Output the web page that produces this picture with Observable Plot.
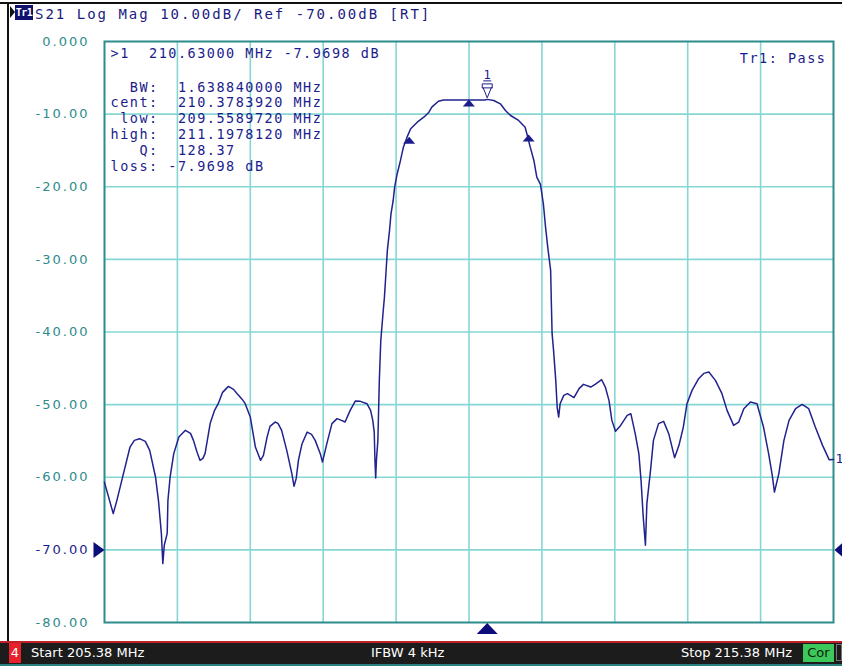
<!DOCTYPE html>
<html><head><meta charset="utf-8">
<script src="https://cdn.jsdelivr.net/npm/d3@7"></script>
<script src="https://cdn.jsdelivr.net/npm/@observablehq/plot@0.6"></script>
<style>
html,body{margin:0;padding:0;background:#fff;}
#wrap{position:relative;width:842px;height:666px;overflow:hidden;background:#fff;}
#chart{position:absolute;left:0;top:0;}
.abs{position:absolute;}
#hdr{position:absolute;left:35px;top:5px;font:14px "DejaVu Sans Mono",monospace;letter-spacing:2px;color:#1a1a80;white-space:pre;line-height:18px;}
.ft{position:absolute;top:645px;font:13px "DejaVu Sans",sans-serif;color:#fff;white-space:pre;line-height:16px;}
</style></head><body>
<div id="wrap">
  <div id="chart"></div>
  <div class="abs" style="left:0;top:2px;width:842px;height:2px;background:#111"></div>
  <div class="abs" style="left:7px;top:2px;width:2px;height:640px;background:#111"></div>
  <div class="abs" style="left:10px;top:6px;width:0;height:0;border-top:6px solid transparent;border-bottom:6px solid transparent;border-left:5px solid #111"></div>
  <div class="abs" style="left:15px;top:5px;width:18px;height:15px;background:#10106e;color:#fff;font:bold 10px 'DejaVu Sans Mono',monospace;letter-spacing:-0.5px;line-height:15px;text-align:center">Tr1</div>
  <div id="hdr"></div>
  <div class="abs" style="left:0;top:641px;width:842px;height:25px;background:#1c1c1c"></div>
  <div class="abs" style="left:0;top:641px;width:842px;height:2px;background:#c0202a"></div>
  <div class="abs" style="left:0;top:664px;width:842px;height:2px;background:#2a7f7f"></div>
  <div class="abs" style="left:9px;top:643px;width:12px;height:20px;background:#e8202c;color:#fff;font:13px 'DejaVu Sans',sans-serif;line-height:20px;text-align:center">4</div>
  <div class="ft" id="fStart" style="left:31px"></div>
  <div class="ft" id="fIfbw" style="left:371px"></div>
  <div class="ft" id="fStop" style="right:50px"></div>
  <div class="abs" style="left:803px;top:644px;width:31px;height:18px;background:#3cc85a;color:#0c1c0c;font:13px 'DejaVu Sans',sans-serif;line-height:18px;text-align:center">Cor</div>
  <div class="abs" style="left:836px;top:644px;width:6px;height:17px;border:1px solid #777;box-sizing:border-box"></div>
</div>
<script>
// ---- data ----
const startMHz = 205.38;
const stopMHz = 215.38;
const xGridMHz = [206.38, 207.38, 208.38, 209.38, 210.38, 211.38, 212.38, 213.38, 214.38];
const yTickValues = [0, -10, -20, -30, -40, -50, -60, -70, -80];
const yTickLabels = ["0.000", "-10.00", "-20.00", "-30.00", "-40.00", "-50.00", "-60.00", "-70.00", "-80.00"];
const refLevelDb = -70;

const freqMHz = [
205.38,205.43,205.50,205.55,205.64,205.73,205.79,205.86,205.94,206.00,
206.08,206.12,206.16,206.18,206.20,206.24,206.25,206.28,206.33,206.40,
206.49,206.56,206.60,206.65,206.69,206.73,206.76,206.83,206.89,206.94,
207.00,207.08,207.15,207.20,207.27,207.31,207.38,207.45,207.52,207.56,
207.61,207.65,207.72,207.76,207.81,207.88,207.95,207.98,208.01,208.04,
208.09,208.16,208.22,208.27,208.34,208.37,208.43,208.50,208.57,208.63,
208.68,208.75,208.82,208.89,208.98,209.03,209.06,209.08,209.09,209.10,
209.11,209.13,209.15,209.17,209.20,209.22,209.24,209.26,209.29,209.31,
209.34,209.36,209.39,209.44,209.48,209.53,209.58,209.67,209.76,209.83,
209.87,209.96,210.03,210.60,210.63,210.72,210.81,210.88,210.95,211.06,
211.15,211.18,211.22,211.27,211.31,211.36,211.40,211.43,211.46,211.50,
211.51,211.52,211.54,211.57,211.59,211.61,211.63,211.68,211.73,211.77,
211.82,211.89,211.95,212.05,212.11,212.20,212.25,212.30,212.34,212.39,
212.46,212.55,212.60,212.66,212.71,212.74,212.77,212.80,212.82,212.87,
212.91,212.98,213.05,213.12,213.20,213.26,213.32,213.37,213.44,213.53,
213.60,213.67,213.76,213.85,213.92,214.01,214.08,214.15,214.24,214.33,
214.42,214.49,214.54,214.57,214.63,214.70,214.77,214.86,214.95,215.04,
215.13,215.23,215.32,215.38];
const s21dB = [
-60.70,-62.49,-65.01,-63.18,-59.50,-55.84,-54.92,-54.69,-55.06,-56.30,
-59.97,-63.18,-67.72,-71.89,-69.37,-67.72,-63.18,-59.97,-56.75,-54.47,
-53.54,-53.96,-54.92,-56.57,-57.67,-57.40,-56.71,-52.58,-50.79,-49.87,
-48.31,-47.49,-47.90,-48.49,-49.28,-49.87,-51.71,-55.84,-57.67,-56.99,
-54.47,-52.99,-52.40,-52.58,-53.54,-56.30,-59.50,-61.25,-60.15,-57.67,
-55.38,-53.78,-54.09,-54.92,-56.75,-57.91,-55.38,-52.62,-51.93,-52.17,
-52.40,-50.79,-49.51,-49.55,-49.87,-50.79,-52.17,-53.78,-57.67,-60.11,
-57.67,-54.92,-46.66,-41.16,-37.48,-35.20,-31.98,-28.77,-26.01,-23.72,
-21.89,-20.05,-18.44,-16.38,-14.55,-13.17,-12.02,-11.11,-10.42,-9.73,
-9.04,-8.22,-8.05,-8.05,-7.97,-8.12,-8.58,-9.50,-10.19,-10.87,
-11.80,-12.94,-14.55,-16.38,-18.68,-19.68,-22.34,-25.56,-28.31,-31.52,
-36.10,-40.23,-42.53,-46.66,-50.42,-51.71,-49.87,-48.73,-48.49,-48.73,
-49.04,-47.80,-47.21,-47.58,-47.21,-46.57,-47.58,-49.41,-52.17,-53.68,
-52.86,-51.48,-51.25,-54.00,-56.75,-60.43,-65.48,-69.37,-63.63,-59.05,
-54.92,-52.62,-52.31,-54.00,-57.30,-55.61,-53.09,-49.87,-48.04,-46.43,
-45.70,-45.52,-46.66,-48.49,-50.79,-52.86,-52.40,-50.56,-49.65,-49.87,
-53.09,-56.75,-59.74,-62.04,-59.50,-54.92,-52.17,-50.56,-49.97,-50.56,
-53.09,-55.61,-57.58,-57.54];

const marker1MHz = 210.63;
const marker1Db = -7.97;
const bwMarkerMHz = [209.559, 210.378, 211.198];
const bwMarkerDb = [-13.1, -8.0, -12.8];

const headerText = "S21 Log Mag 10.00dB/ Ref -70.00dB [RT]";
const markerLines = [
  ">1  210.63000 MHz -7.9698 dB",
  "  BW:  1.638840000 MHz",
  "cent:  210.3783920 MHz",
  " low:  209.5589720 MHz",
  "high:  211.1978120 MHz",
  "   Q:  128.37",
  "loss: -7.9698 dB"
];
const passText = "Tr1: Pass";
const footerStart = "Start 205.38 MHz";
const footerIfbw = "IFBW 4 kHz";
const footerStop = "Stop 215.38 MHz";

// ---- drawing ----
document.getElementById("hdr").textContent = headerText;
document.getElementById("fStart").textContent = footerStart;
document.getElementById("fIfbw").textContent = footerIfbw;
document.getElementById("fStop").textContent = footerStop;

const navy = "#1c1c8c";
const teal = "#2e8b8b";
const gridColor = "#86d6d4";
const frameColor = "#2f8c8c";
const mono = "DejaVu Sans Mono, monospace";
const nb = s => s.replace(/ /g, "\u00a0");

const trace = freqMHz.map((f, i) => ({f, db: s21dB[i]}));
const bw = bwMarkerMHz.map((f, i) => ({f, db: bwMarkerDb[i]}));

const upTri = {draw(ctx) { ctx.moveTo(0, 0); ctx.lineTo(6, 7); ctx.lineTo(-6, 7); ctx.closePath(); }};
const bigUpTri = {draw(ctx) { ctx.moveTo(0, 0); ctx.lineTo(10.5, 11); ctx.lineTo(-10.5, 11); ctx.closePath(); }};
const rightTri = {draw(ctx) { ctx.moveTo(0, 0); ctx.lineTo(-11, -8); ctx.lineTo(-11, 8); ctx.closePath(); }};
const leftTri = {draw(ctx) { ctx.moveTo(0, 0); ctx.lineTo(8, -7); ctx.lineTo(8, 7); ctx.closePath(); }};
const mkSym = {draw(ctx) {
  ctx.moveTo(0, 0); ctx.lineTo(-4, -10); ctx.lineTo(-5, -10); ctx.lineTo(-5, -14);
  ctx.lineTo(5, -14); ctx.lineTo(5, -10); ctx.lineTo(4, -10); ctx.closePath();
  ctx.moveTo(-5, -10); ctx.lineTo(5, -10);
  ctx.moveTo(-4, -17); ctx.lineTo(4, -17);
}};

const lineBaselines = [57, 91, 106.5, 122.5, 138.5, 154, 170];

const plot = Plot.plot({
  width: 842,
  height: 666,
  marginLeft: 104,
  marginRight: 9,
  marginTop: 41,
  marginBottom: 44,
  x: {domain: [startMHz, stopMHz], axis: null},
  y: {domain: [-80, 0], axis: null},
  color: {type: "identity"},
  style: {background: "transparent", overflow: "visible"},
  marks: [
    Plot.ruleX(xGridMHz, {stroke: gridColor, strokeWidth: 1.6}),
    Plot.ruleY(yTickValues.filter(v => v !== 0 && v !== -80), {stroke: gridColor, strokeWidth: 1.6}),
    Plot.frame({stroke: frameColor, strokeWidth: 2}),
    Plot.text(yTickValues, {
      frameAnchor: "left", y: d => d, text: (d, i) => yTickLabels[i],
      textAnchor: "end", lineAnchor: "middle", dx: -15,
      fill: d => d === refLevelDb ? navy : teal,
      fontFamily: "DejaVu Sans, sans-serif", fontSize: 13
    }),
    Plot.line(trace, {x: "f", y: "db", stroke: "#22228e", strokeWidth: 1.5, strokeLinejoin: "round"}),
    Plot.dot(bw, {x: "f", y: "db", symbol: upTri, fill: navy, stroke: "none", r: 5}),
    Plot.dot([{f: marker1MHz, db: marker1Db}], {x: "f", y: "db", symbol: mkSym, fill: "#fff", stroke: navy, strokeWidth: 1, r: 5, dy: -1.5}),
    Plot.text([{f: marker1MHz, db: marker1Db, t: "1"}], {x: "f", y: "db", text: "t", dy: -20.5, lineAnchor: "bottom", fill: navy, fontFamily: mono, fontSize: 12}),
    Plot.dot([{f: marker1MHz, db: -80}], {x: "f", y: "db", symbol: bigUpTri, fill: "#0c0c7a", stroke: "none", r: 5, dy: 0.5}),
    Plot.dot([{f: startMHz, db: refLevelDb}], {x: "f", y: "db", symbol: rightTri, fill: "#0c0c7a", stroke: "none", r: 5}),
    Plot.dot([{f: stopMHz, db: refLevelDb}], {x: "f", y: "db", symbol: leftTri, fill: "#0c0c7a", stroke: "none", r: 5, dx: 1}),
    Plot.text([{f: stopMHz, db: s21dB[s21dB.length - 1], t: "1"}], {x: "f", y: "db", text: "t", dx: 2, dy: -1, textAnchor: "start", lineAnchor: "middle", fill: navy, fontFamily: mono, fontSize: 13}),
    ...markerLines.map((s, i) => Plot.text([nb(s)], {
      frameAnchor: "top-left", text: d => d, textAnchor: "start", lineAnchor: "bottom",
      dx: 6, dy: lineBaselines[i] - 41, fill: navy, fontFamily: mono, fontSize: 13.5
    })),
    Plot.text([nb(passText)], {
      frameAnchor: "top-right", text: d => d, textAnchor: "end", lineAnchor: "bottom",
      dx: -7, dy: 21, fill: navy, fontFamily: mono, fontSize: 13.5
    })
  ]
});

// letter spacing to match the analyser's wide bitmap fonts
const wideMono = new Set([...markerLines, passText].map(nb));
const yLab = new Set(yTickLabels);
d3.select(plot).selectAll("text").each(function() {
  const t = this.textContent;
  if (yLab.has(t)) this.setAttribute("letter-spacing", "2");
  else if (wideMono.has(t)) this.setAttribute("letter-spacing", "1.5");
});
document.getElementById("chart").appendChild(plot);
</script>
</body></html>
